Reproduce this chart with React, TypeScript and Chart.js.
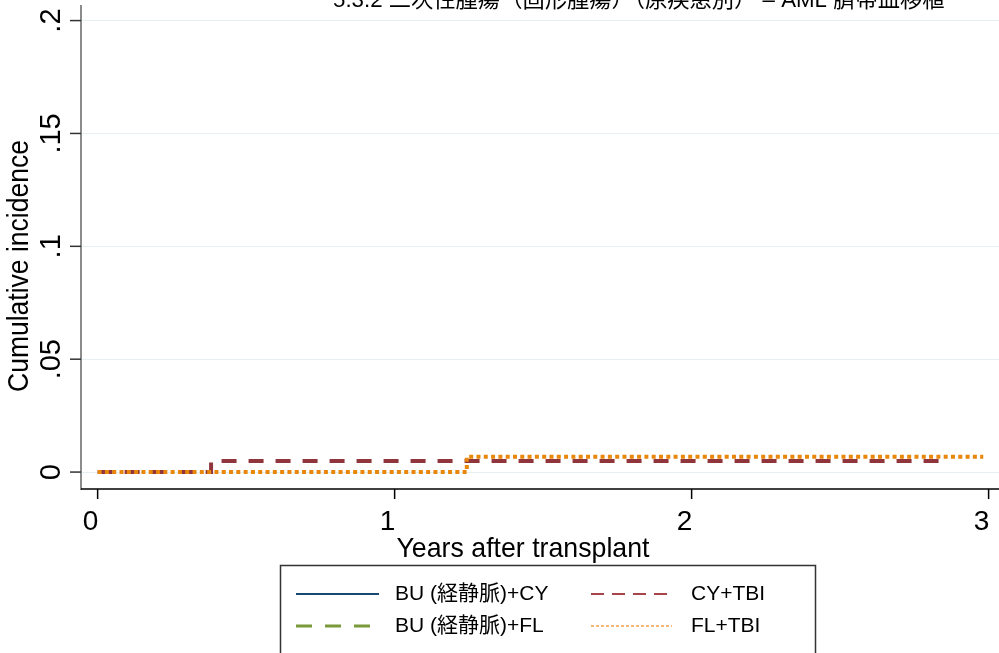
import React, { useEffect, useRef } from "react";
import { Chart, registerables } from "chart.js";
Chart.register(...registerables);

const titleText = "5.3.2 二次性腫瘍（固形腫瘍）（原疾患別） – AML 臍帯血移植";
const xAxisTitle = "Years after transplant";
const yAxisTitle = "Cumulative incidence";

const seriesNames = ["BU (経静脈)+CY", "CY+TBI", "BU (経静脈)+FL", "FL+TBI"];
const seriesColors = ["#1a476f", "#90353b", "#6f8f33", "#e8870b"];
const legendColors = ["#1a476f", "#a8454b", "#7a9a3a", "#f5a04a"];

// step functions (time in years, cumulative incidence)
const buCyX: number[] = [];
const buCyY: number[] = [];
const cyTbiX = [0, 0.382, 2.867];
const cyTbiY = [0, 0.0049, 0.0049];
const buFlX: number[] = [];
const buFlY: number[] = [];
const flTbiX = [0, 1.243, 2.982];
const flTbiY = [0, 0.0068, 0.0068];

const xTicks = [0, 1, 2, 3];
const xTickLabels = ["0", "1", "2", "3"];
const yTicks = [0, 0.05, 0.1, 0.15, 0.2];
const yTickLabels = ["0", ".05", ".1", ".15", ".2"];

const FONT = '"Liberation Sans", Arial, "Noto Sans CJK JP", sans-serif';

function pts(xs: number[], ys: number[]) {
  return xs.map((x, i) => ({ x, y: ys[i] }));
}

function fitFont(ctx: CanvasRenderingContext2D, text: string, width: number, base: number) {
  ctx.font = `${base}px ${FONT}`;
  const w = ctx.measureText(text).width;
  return (base * width) / w;
}

const overlay = {
  id: "stataOverlay",
  afterDraw(chart: any) {
    const ctx: CanvasRenderingContext2D = chart.ctx;
    const xs = chart.scales.x;
    const ys = chart.scales.y;
    const area = chart.chartArea;
    ctx.save();

    // axes
    ctx.strokeStyle = "#8c8c8c";
    ctx.lineWidth = 2;
    ctx.beginPath();
    ctx.moveTo(area.left, area.top);
    ctx.lineTo(area.left, area.bottom + 1);
    ctx.stroke();
    ctx.strokeStyle = "#000";
    ctx.lineWidth = 1.5;
    ctx.beginPath();
    ctx.moveTo(area.left, area.bottom);
    ctx.lineTo(area.right, area.bottom);
    ctx.stroke();

    // y ticks + labels
    ctx.fillStyle = "#000";
    yTicks.forEach((v, i) => {
      const py = ys.getPixelForValue(v);
      ctx.strokeStyle = "#333";
      ctx.lineWidth = 1.5;
      ctx.beginPath();
      ctx.moveTo(area.left - 11, py);
      ctx.lineTo(area.left, py);
      ctx.stroke();
      ctx.save();
      ctx.translate(60, py);
      ctx.rotate(-Math.PI / 2);
      ctx.font = `29px ${FONT}`;
      ctx.textAlign = "center";
      ctx.textBaseline = "alphabetic";
      ctx.fillText(yTickLabels[i], 0, 0);
      ctx.restore();
    });

    // x ticks + labels
    xTicks.forEach((v, i) => {
      const px = xs.getPixelForValue(v);
      ctx.strokeStyle = "#000";
      ctx.lineWidth = 1.5;
      ctx.beginPath();
      ctx.moveTo(px, area.bottom);
      ctx.lineTo(px, area.bottom + 10);
      ctx.stroke();
      ctx.font = `28px ${FONT}`;
      ctx.textAlign = "center";
      ctx.textBaseline = "middle";
      ctx.fillText(xTickLabels[i], px - 7, 522);
    });

    // axis titles
    ctx.font = `28px ${FONT}`;
    ctx.textAlign = "center";
    ctx.textBaseline = "alphabetic";
    ctx.fillText(xAxisTitle, 523, 557, 253);

    ctx.save();
    ctx.translate(28, 266);
    ctx.rotate(-Math.PI / 2);
    ctx.font = `29px ${FONT}`;
    ctx.textAlign = "center";
    ctx.textBaseline = "alphabetic";
    ctx.fillText(yAxisTitle, 0, 0, 252);
    ctx.restore();

    // title (clipped at top)
    const fs = fitFont(ctx, titleText, 612, 22);
    ctx.font = `${fs}px ${FONT}`;
    ctx.textAlign = "left";
    ctx.textBaseline = "alphabetic";
    ctx.fillText(titleText, 333, 7);

    // legend box
    ctx.strokeStyle = "#333";
    ctx.lineWidth = 1.5;
    ctx.strokeRect(280.5, 565.5, 535, 100);

    const items = [
      { i: 0, x1: 296, x2: 379, y: 594, w: 2, dash: [] as number[], tx: 395 },
      { i: 1, x1: 591, x2: 672, y: 594, w: 2, dash: [13, 8], tx: 691 },
      { i: 2, x1: 296, x2: 379, y: 626, w: 3, dash: [16, 13], tx: 395 },
      { i: 3, x1: 591, x2: 672, y: 626, w: 1.5, dash: [3, 2], tx: 691 },
    ];
    items.forEach((it) => {
      ctx.strokeStyle = legendColors[it.i];
      ctx.lineWidth = it.w;
      ctx.setLineDash(it.dash);
      ctx.beginPath();
      ctx.moveTo(it.x1, it.y);
      ctx.lineTo(it.x2, it.y);
      ctx.stroke();
      ctx.setLineDash([]);
      ctx.fillStyle = "#000";
      ctx.font = `21px ${FONT}`;
      ctx.textAlign = "left";
      ctx.textBaseline = "middle";
      ctx.fillText(seriesNames[it.i], it.tx, it.y);
    });

    ctx.restore();
  },
};

export default function App() {
  const ref = useRef<HTMLCanvasElement | null>(null);
  useEffect(() => {
    if (!ref.current) return;
    const chart = new Chart(ref.current, {
      type: "line",
      data: {
        datasets: [
          {
            label: seriesNames[0],
            data: pts(buCyX, buCyY),
            borderColor: seriesColors[0],
            borderWidth: 3,
            stepped: true,
            pointRadius: 0,
            order: 3,
          },
          {
            label: seriesNames[2],
            data: pts(buFlX, buFlY),
            borderColor: seriesColors[2],
            borderWidth: 4,
            borderDash: [15, 12],
            stepped: true,
            pointRadius: 0,
            order: 2,
          },
          {
            label: seriesNames[1],
            data: pts(cyTbiX, cyTbiY),
            borderColor: seriesColors[1],
            borderWidth: 4,
            borderDash: [15, 12],
            borderCapStyle: "butt",
            stepped: true,
            pointRadius: 0,
            order: 1,
          },
          {
            label: seriesNames[3],
            data: pts(flTbiX, flTbiY),
            borderColor: seriesColors[3],
            borderWidth: 4,
            borderDash: [4, 3.3],
            borderCapStyle: "butt",
            stepped: true,
            pointRadius: 0,
            order: 0,
          },
        ],
      },
      options: {
        animation: false,
        responsive: false,
        devicePixelRatio: 1,
        layout: { padding: { top: 5, left: 0, right: 0, bottom: 0 } },
        plugins: { legend: { display: false }, tooltip: { enabled: false }, title: { display: false } },
        scales: {
          x: {
            type: "linear",
            min: -0.056,
            max: 3.035,
            ticks: { display: false },
            grid: { display: false },
            border: { display: false },
            afterBuildTicks: (s: any) => {
              s.ticks = xTicks.map((v) => ({ value: v }));
            },
            afterFit: (s: any) => {
              s.height = 164;
            },
          },
          y: {
            type: "linear",
            min: -0.0075,
            max: 0.2069,
            ticks: { display: false },
            grid: { color: "#e6eff1", lineWidth: 1, drawTicks: false },
            border: { display: false },
            afterBuildTicks: (s: any) => {
              s.ticks = yTicks.map((v) => ({ value: v }));
            },
            afterFit: (s: any) => {
              s.width = 81;
            },
          },
        },
      } as any,
      plugins: [overlay],
    });
    return () => chart.destroy();
  }, []);
  return (
    <div style={{ position: "fixed", left: 0, top: 0, width: 999, height: 653, background: "#fff" }}>
      <canvas ref={ref} width={999} height={653} style={{ display: "block", width: 999, height: 653 }} />
    </div>
  );
}
